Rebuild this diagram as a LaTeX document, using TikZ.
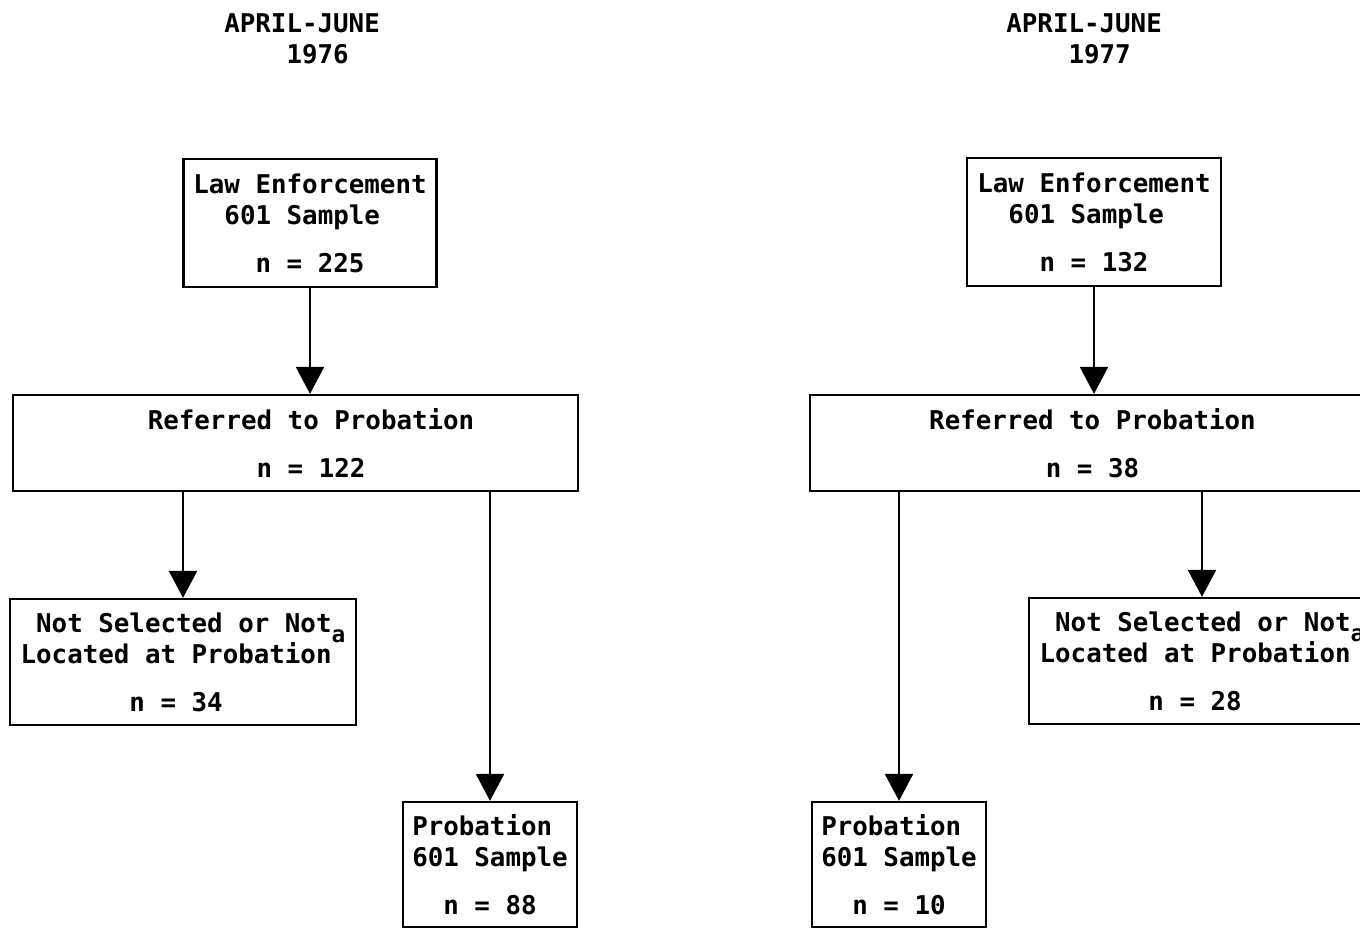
\documentclass[tikz,border=0pt]{standalone}
\usepackage{fontspec}
\setmonofont{DejaVu Sans Mono}
\usetikzlibrary{arrows.meta}
\newcommand{\flowfont}{\ttfamily\bfseries\fontsize{14.7}{17.6}\selectfont}
\newcommand{\indt}[1]{\hphantom{#1}}
\newcommand{\supa}{\smash{\raisebox{0.42cm}{\fontsize{13}{13}\selectfont a}}}
\tikzset{
	box/.style={draw, line width=1.3pt, inner sep=0pt, font=\flowfont},
	flow/.style={line width=1.3pt, -{Triangle[length=0.54cm,width=0.56cm]}},
	head/.style={anchor=north west, inner sep=0pt, align=left, font=\flowfont}
}
\begin{document}
\begin{tikzpicture}[x=0.02cm, y=-0.02cm]
			\useasboundingbox (0,0) rectangle (1360,929);
			\foreach \xh/\yr in {224/1976, 1006/1977}{
			\node[head] (head\yr) at (\xh,13) {APRIL-JUNE\\\indt{0000}\yr};
			}
			\node[box, minimum width=5.06cm, minimum height=2.56cm, align=left] (law76) at (310,223) {Law Enforcement\\\indt{00}601 Sample\\[0.34cm]\indt{0000}n = 225};
			\node[box, minimum width=11.3cm, minimum height=1.92cm, align=center] (ref76) at (295.5,443) {\indt{00}Referred to Probation\\[0.34cm]\indt{00}n = 122};
			\node[box, minimum width=6.92cm, minimum height=2.52cm, align=left] (notsel76) at (183,662) {\indt{0}Not Selected or Not\\Located at Probation\supa\\[0.34cm]\indt{0000000}n = 34};
			\node[box, minimum width=3.48cm, minimum height=2.5cm, align=left] (prob76) at (490,864.5) {Probation\\601 Sample\\[0.34cm]\indt{00}n = 88};
			\node[box, minimum width=5.08cm, minimum height=2.56cm, align=left] (law77) at (1094,222) {Law Enforcement\\\indt{00}601 Sample\\[0.34cm]\indt{0000}n = 132};
			\node[box, minimum width=11.3cm, minimum height=1.92cm, align=center] (ref77) at (1092.5,443) {Referred to Probation\\[0.34cm]n = 38};
			\node[box, minimum width=6.92cm, minimum height=2.52cm, align=left] (notsel77) at (1202,661) {\indt{0}Not Selected or Not\\Located at Probation\supa\\[0.34cm]\indt{0000000}n = 28};
			\node[box, minimum width=3.48cm, minimum height=2.5cm, align=left] (prob77) at (899,864.5) {Probation\\601 Sample\\[0.34cm]\indt{00}n = 10};
			\draw[flow] (law76.south) -- (law76.south |- ref76.north);
			\draw[flow] (notsel76.north |- ref76.south) -- (notsel76.north);
			\draw[flow] (prob76.north |- ref76.south) -- (prob76.north);
			\draw[flow] (law77.south) -- (law77.south |- ref77.north);
			\draw[flow] (notsel77.north |- ref77.south) -- (notsel77.north);
			\draw[flow] (prob77.north |- ref77.south) -- (prob77.north);
\end{tikzpicture}
\end{document}
